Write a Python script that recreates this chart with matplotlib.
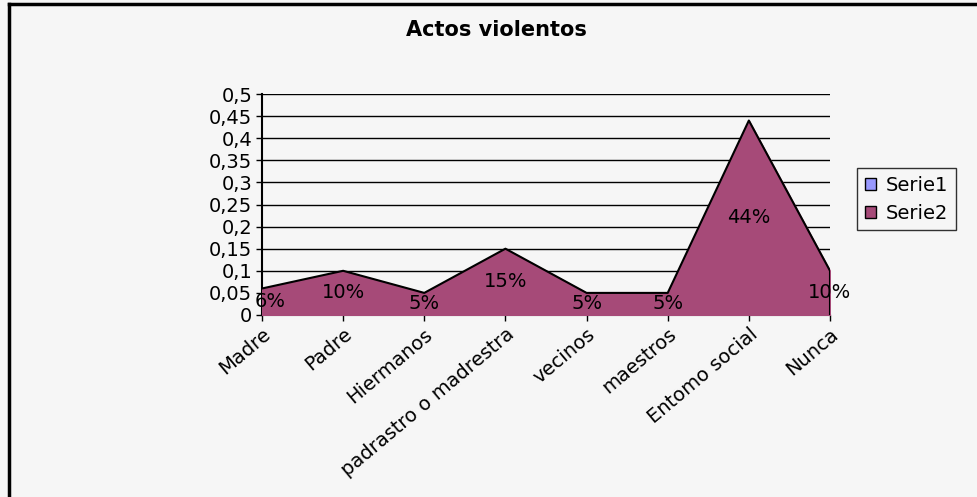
import matplotlib
matplotlib.use("Agg")
import matplotlib.pyplot as plt
from matplotlib.patches import Patch
from matplotlib.lines import Line2D

categories = ["Madre", "Padre", "Hiermanos", "padrastro o madrestra",
              "vecinos", "maestros", "Entomo social", "Nunca"]
serie2 = [0.06, 0.10, 0.05, 0.15, 0.05, 0.05, 0.44, 0.10]
labels2 = ["6%", "10%", "5%", "15%", "5%", "5%", "44%", "10%"]
yticks = [0, 0.05, 0.1, 0.15, 0.2, 0.25, 0.3, 0.35, 0.4, 0.45, 0.5]
yticklabels = ["0", "0,05", "0,1", "0,15", "0,2", "0,25", "0,3", "0,35", "0,4", "0,45", "0,5"]

plt.rcParams['font.family'] = ['DejaVu Sans']
fs = 14

fig = plt.figure(figsize=(9.77, 4.97), dpi=100, facecolor="#F6F6F6")
ax = fig.add_axes([262/977, 1-315/497, 568/977, 221/497])
ax.set_facecolor("none")

x = list(range(len(categories)))
ax.fill_between(x, serie2, 0, color="#A64A78", zorder=3)
ax.plot(x, serie2, color="black", lw=1.5, zorder=4)
ax.plot([x[-1], x[-1]], [0, serie2[-1]], color="black", lw=1.5, zorder=4)

for i, v in enumerate(serie2):
    # first label nudged right so it does not sit on the 0,05 tick label
    dx = 6 if i == 0 else 0
    ax.annotate(labels2[i], (i, v/2), xytext=(dx, 0), textcoords="offset points",
                ha="center", va="center", fontsize=fs, zorder=5)

ax.set_xlim(0, len(categories)-1)
ax.set_ylim(0, 0.5)
ax.set_yticks(yticks)
ax.set_yticklabels(yticklabels, fontsize=fs)
ax.set_xticks(x)
ax.set_xticklabels(categories, fontsize=fs, rotation=40, ha="right", rotation_mode="anchor")
ax.yaxis.grid(True, color="black", lw=1)
ax.set_axisbelow(True)
for s in ["top", "right"]:
    ax.spines[s].set_visible(False)
ax.spines["left"].set_linewidth(1.5)
ax.spines["bottom"].set_linewidth(1.5)
ax.tick_params(length=4, width=1, pad=3)

fig.text(0.508, 1-30/497, "Actos violentos", ha="center", va="center", fontsize=15, fontweight="bold")

handles = [Patch(facecolor="#9999FF", edgecolor="black", lw=1),
           Patch(facecolor="#A64A78", edgecolor="black", lw=1)]
leg = fig.legend(handles, ["Serie1", "Serie2"], loc="upper left",
                 bbox_to_anchor=(857/977, 1-168/497), fontsize=fs,
                 frameon=True, fancybox=False, handlelength=0.6, handleheight=0.6,
                 handletextpad=0.5, borderpad=0.4, labelspacing=0.45,
                 borderaxespad=0)
leg.get_frame().set_edgecolor("black")
leg.get_frame().set_linewidth(1)
leg.get_frame().set_facecolor("#F6F6F6")

# outer frame (top and left edges)
fig.add_artist(Line2D([9/977, 1], [1-4/497, 1-4/497], color="black", lw=2.5))
fig.add_artist(Line2D([9/977, 9/977], [0, 1-4/497], color="black", lw=2.5))

fig.savefig("out.png", dpi=100, facecolor=fig.get_facecolor())
